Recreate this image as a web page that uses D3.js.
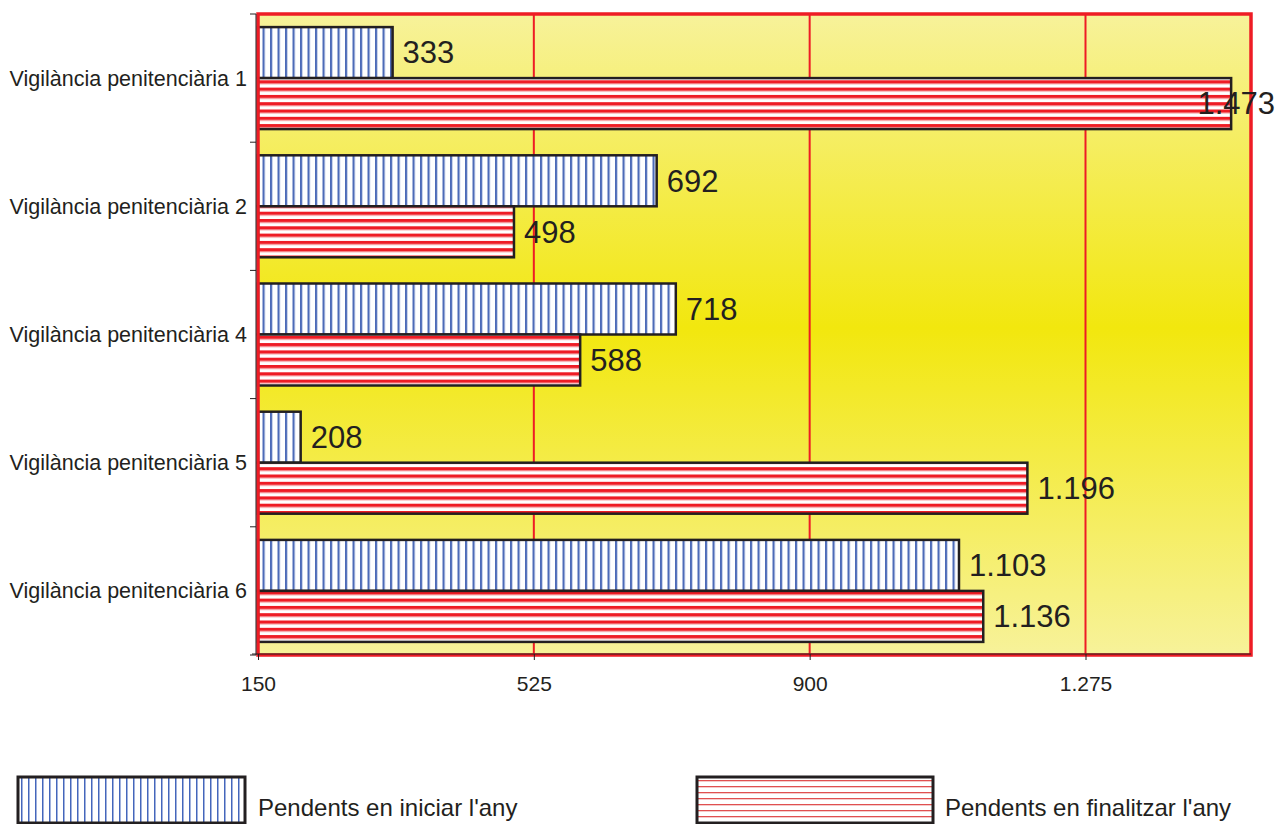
<!DOCTYPE html>
<html><head><meta charset="utf-8">
<script src="https://cdn.jsdelivr.net/npm/d3@7"></script>
<style>body{margin:0;background:#fff;}svg{display:block;font-family:"Liberation Sans",Arial,sans-serif;}</style>
</head><body>
<script>
const categories = ["Vigilància penitenciària 1","Vigilància penitenciària 2","Vigilància penitenciària 4","Vigilància penitenciària 5","Vigilància penitenciària 6"];
const iniciar = [333, 692, 718, 208, 1103];
const finalitzar = [1473, 498, 588, 1196, 1136];
const seriesNames = ["Pendents en iniciar l'any","Pendents en finalitzar l'any"];
const xTicks = [150, 525, 900, 1275];
const xDomain = [150, 1500];

const W = 1277, H = 824;
const m = {left: 258, right: 1251, top: 14, bottom: 655};
const svg = d3.select("body").append("svg").attr("width", W).attr("height", H);
const defs = svg.append("defs");

const grad = defs.append("linearGradient").attr("id","bg").attr("x1",0).attr("y1",0).attr("x2",0).attr("y2",1);
grad.append("stop").attr("offset","0%").attr("stop-color","#f7f29a");
grad.append("stop").attr("offset","49%").attr("stop-color","#f2e70e");
grad.append("stop").attr("offset","100%").attr("stop-color","#f7f29a");

function vpat(id, w, sw, col) {
  const p = defs.append("pattern").attr("id", id).attr("patternUnits","userSpaceOnUse").attr("width", w).attr("height", 10);
  p.append("rect").attr("width", w).attr("height", 10).attr("fill", "#fff");
  p.append("rect").attr("x", 0).attr("width", sw).attr("height", 10).attr("fill", col);
}
function hpat(id, h, sw, col, mid) {
  const p = defs.append("pattern").attr("id", id).attr("patternUnits","userSpaceOnUse").attr("width", 10).attr("height", h);
  p.append("rect").attr("width", 10).attr("height", h).attr("fill", "#fff");
  if (mid) p.append("rect").attr("y", sw).attr("width", 10).attr("height", 1).attr("fill", mid);
  p.append("rect").attr("y", 0).attr("width", 10).attr("height", sw).attr("fill", col);
}
vpat("pBlue", 7.5, 2.2, "#4d6bb8");
hpat("pRed", 7.3, 3.2, "#ee1c25", "#f7b3b5");
vpat("pBlueL", 7, 1.5, "#4466bb");
hpat("pRedL", 6, 1.3, "#e05050");

const x = d3.scaleLinear().domain(xDomain).range([m.left, m.right]);
const yOuter = d3.scaleBand().domain(categories).range([m.top, m.bottom]);

// background
svg.append("rect").attr("x", m.left).attr("y", m.top).attr("width", m.right - m.left).attr("height", m.bottom - m.top).attr("fill", "url(#bg)");
// grid
svg.append("g").selectAll("line").data(xTicks.slice(1)).join("line")
  .attr("x1", d => x(d)).attr("x2", d => x(d)).attr("y1", m.top).attr("y2", m.bottom)
  .attr("stroke", "#ee1c25").attr("stroke-width", 2);

const loc = d3.formatLocale({decimal: ",", thousands: ".", grouping: [3], currency: ["", "€"]});
const fmt = loc.format(",d");

const bandH = yOuter.bandwidth();
const barH = 51;
const series = [iniciar, finalitzar];
const fills = ["url(#pBlue)", "url(#pRed)"];

series.forEach((vals, si) => {
  const g = svg.append("g");
  g.selectAll("rect").data(vals).join("rect")
    .attr("x", x(xDomain[0]))
    .attr("y", (d, i) => yOuter(categories[i]) + bandH / 2 - barH + si * barH)
    .attr("width", d => x(d) - x(xDomain[0]))
    .attr("height", barH)
    .attr("fill", fills[si])
    .attr("stroke", "#231f20").attr("stroke-width", 2.5);
});

// frame
svg.append("rect").attr("x", m.left).attr("y", m.top).attr("width", m.right - m.left).attr("height", m.bottom - m.top)
  .attr("fill", "none").attr("stroke", "#ee1c25").attr("stroke-width", 3.5);

// value labels
series.forEach((vals, si) => {
  svg.append("g").selectAll("text").data(vals).join("text")
    .attr("y", (d, i) => yOuter(categories[i]) + bandH / 2 - barH / 2 + si * barH)
    .attr("dy", "0.35em")
    .attr("font-size", 31).attr("fill", "#231f20")
    .text(d => fmt(d))
    .each(function(d) {
      const w = this.getComputedTextLength();
      let xx = x(d) + 10;
      if (xx + w > W - 2) xx = W - 2 - w;
      d3.select(this).attr("x", xx);
    });
});

// axes
const xAxis = d3.axisBottom(x).tickValues(xTicks).tickFormat(fmt).tickSize(6).tickPadding(16);
const gx = svg.append("g").attr("transform", `translate(0,${m.bottom - 1})`).call(xAxis);
gx.select(".domain").remove();
gx.selectAll("line").attr("stroke", "#231f20");
gx.selectAll("text").attr("font-size", 21).attr("fill", "#231f20").attr("font-family", "Liberation Sans, Arial, sans-serif");
svg.append("line").attr("x1", m.left - 6).attr("x2", m.right).attr("y1", m.bottom - 1).attr("y2", m.bottom - 1).attr("stroke", "#231f20").attr("stroke-width", 1);

// y axis line and ticks between categories
svg.append("line").attr("x1", m.left - 2).attr("x2", m.left - 2).attr("y1", m.top).attr("y2", m.bottom).attr("stroke", "#231f20");
const bounds = categories.map(c => yOuter(c)).concat([m.bottom]);
svg.append("g").selectAll("line").data(bounds).join("line")
  .attr("x1", m.left - 8).attr("x2", m.left - 2).attr("y1", d => d).attr("y2", d => d).attr("stroke", "#231f20");
svg.append("g").selectAll("text").data(categories).join("text")
  .attr("x", m.left - 11).attr("y", c => yOuter(c) + bandH / 2).attr("dy", "0.35em")
  .attr("text-anchor", "end").attr("font-size", 21.5).attr("fill", "#231f20").text(c => c);

// legend
const leg = [{x: 18, w: 227, fill: "url(#pBlueL)", tx: 258}, {x: 697, w: 236, fill: "url(#pRedL)", tx: 945}];
leg.forEach((l, i) => {
  svg.append("rect").attr("x", l.x).attr("y", 777).attr("width", l.w).attr("height", 46)
    .attr("fill", l.fill).attr("stroke", "#231f20").attr("stroke-width", 3);
  svg.append("text").attr("x", l.tx).attr("y", 808).attr("dy", "0.35em").attr("font-size", 24)
    .attr("fill", "#231f20").text(seriesNames[i]);
});
</script>
</body></html>
